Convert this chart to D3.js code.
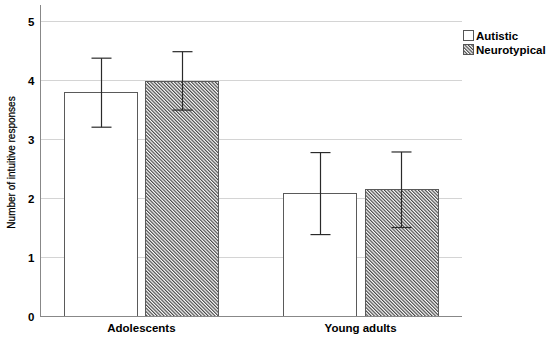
<!DOCTYPE html>
<html>
<head>
<meta charset="utf-8">
<script src="https://cdn.jsdelivr.net/npm/d3@7"></script>
<style>
  body { margin: 0; background: #fff; }
  svg text { font-family: "Liberation Sans", Arial, sans-serif; fill: #000; }
</style>
</head>
<body>
<div id="chart"></div>
<script>
// data
const groups = ['Adolescents', 'Young adults'];
const series = ['Autistic', 'Neurotypical'];
const means = [[3.79, 3.98], [2.08, 2.15]];
const lower = [[3.20, 3.49], [1.38, 1.50]];
const upper = [[4.37, 4.48], [2.77, 2.78]];
const yTicks = [0, 1, 2, 3, 4, 5];

const width = 550, height = 339;
const plotLeft = 40, plotRight = 462, plotTop = 5, plotBottom = 316;

const svg = d3.select('#chart').append('svg')
  .attr('width', width)
  .attr('height', height);

/*hatch*/
svg.append('defs').append('pattern')
  .attr('id', 'hatch')
  .attr('patternUnits', 'userSpaceOnUse')
  .attr('width', 2.4)
  .attr('height', 2.4)
  .attr('patternTransform', 'rotate(-45)')
  .call(p => {
    p.append('rect').attr('width', 2.4).attr('height', 2.4).attr('fill', '#fff');
    p.append('line').attr('x1', 0.6).attr('x2', 0.6).attr('y1', 0).attr('y2', 2.4)
      .attr('stroke', '#3a3a3a').attr('stroke-width', 1.1);
  });

const y = d3.scaleLinear().domain([0, 5]).range([plotBottom, 21]);

const x0 = d3.scaleBand().domain(groups).range([plotLeft, plotRight])
  .paddingInner(0.295).paddingOuter(0.11);

const x1 = d3.scaleBand().domain(series).range([0, x0.bandwidth()])
  .paddingInner(0.1);

/*grid*/
svg.append('g')
  .selectAll('line')
  .data(yTicks.filter(d => d > 0))
  .join('line')
  .attr('x1', plotLeft).attr('x2', plotRight)
  .attr('y1', d => Math.round(y(d)) + 0.5).attr('y2', d => Math.round(y(d)) + 0.5)
  .attr('stroke', '#d4d4d4').attr('stroke-width', 1);

/*y axis*/
const yAxis = svg.append('g')
  .attr('transform', `translate(${plotLeft + 0.5},0)`)
  .call(d3.axisLeft(y).tickValues(yTicks).tickSize(0).tickPadding(6).tickFormat(d3.format('d')));
yAxis.select('.domain').remove();
yAxis.selectAll('text')
  .attr('font-size', 11.5)
  .attr('font-weight', 'bold')
  .attr('dy', '0.36em')
  .style('font-family', '"Liberation Sans", Arial, sans-serif');

svg.append('line')
  .attr('x1', plotLeft + 0.5).attr('x2', plotLeft + 0.5)
  .attr('y1', plotTop).attr('y2', plotBottom)
  .attr('stroke', '#888');

svg.append('text')
  .attr('transform', `translate(15,${(plotTop + plotBottom) / 2 + 2}) rotate(-90)`)
  .attr('text-anchor', 'middle')
  .attr('font-size', 10)
  .attr('stroke', '#000')
  .attr('stroke-width', 0.25)
  .text('Number of intuitive responses');

/*bars*/
const rows = [];
groups.forEach((g, gi) => {
  series.forEach((s, si) => {
    rows.push({ g, s, si, mean: means[gi][si], lo: lower[gi][si], hi: upper[gi][si] });
  });
});

svg.append('g')
  .selectAll('rect')
  .data(rows)
  .join('rect')
  .attr('x', d => Math.round(x0(d.g) + x1(d.s)) + 0.5)
  .attr('y', d => Math.round(y(d.mean)) + 0.5)
  .attr('width', Math.round(x1.bandwidth()))
  .attr('height', d => Math.round(y(0)) - Math.round(y(d.mean)))
  .attr('fill', d => d.si ? 'url(#hatch)' : '#fff')
  .attr('stroke', '#5a5a5a')
  .attr('stroke-width', 1);

/*error bars*/
const eb = svg.append('g')
  .selectAll('g')
  .data(rows)
  .join('g')
  .attr('transform', d => `translate(${Math.round(x0(d.g) + x1(d.s) + x1.bandwidth() / 2) + 0.5},0)`)
  .attr('stroke', '#2a2a2a')
  .attr('stroke-width', 1.2);

eb.append('line')
  .attr('y1', d => y(d.lo)).attr('y2', d => y(d.hi));
eb.append('line')
  .attr('x1', -10).attr('x2', 10)
  .attr('y1', d => y(d.hi)).attr('y2', d => y(d.hi));
eb.append('line')
  .attr('x1', -10).attr('x2', 10)
  .attr('y1', d => y(d.lo)).attr('y2', d => y(d.lo));

/*x axis*/
svg.append('line')
  .attr('x1', plotLeft).attr('x2', plotRight)
  .attr('y1', plotBottom + 0.5).attr('y2', plotBottom + 0.5)
  .attr('stroke', '#888');

svg.append('g')
  .selectAll('text')
  .data(groups)
  .join('text')
  .attr('x', d => x0(d) + x0.bandwidth() / 2)
  .attr('y', 332)
  .attr('text-anchor', 'middle')
  .attr('font-size', 11.5)
  .attr('font-weight', 'bold')
  .text(d => d);

/*legend*/
const legend = svg.append('g')
  .selectAll('g')
  .data(series)
  .join('g')
  .attr('transform', (d, i) => `translate(463,${30 + i * 14})`);

legend.append('rect')
  .attr('x', 0.5).attr('y', 0.5)
  .attr('width', 10).attr('height', 10)
  .attr('fill', (d, i) => i ? 'url(#hatch)' : '#fff')
  .attr('stroke', '#555');

legend.append('text')
  .attr('x', 13).attr('y', 10)
  .attr('font-size', 11.5)
  .attr('font-weight', 'bold')
  .text(d => d);
</script>
</body>
</html>
